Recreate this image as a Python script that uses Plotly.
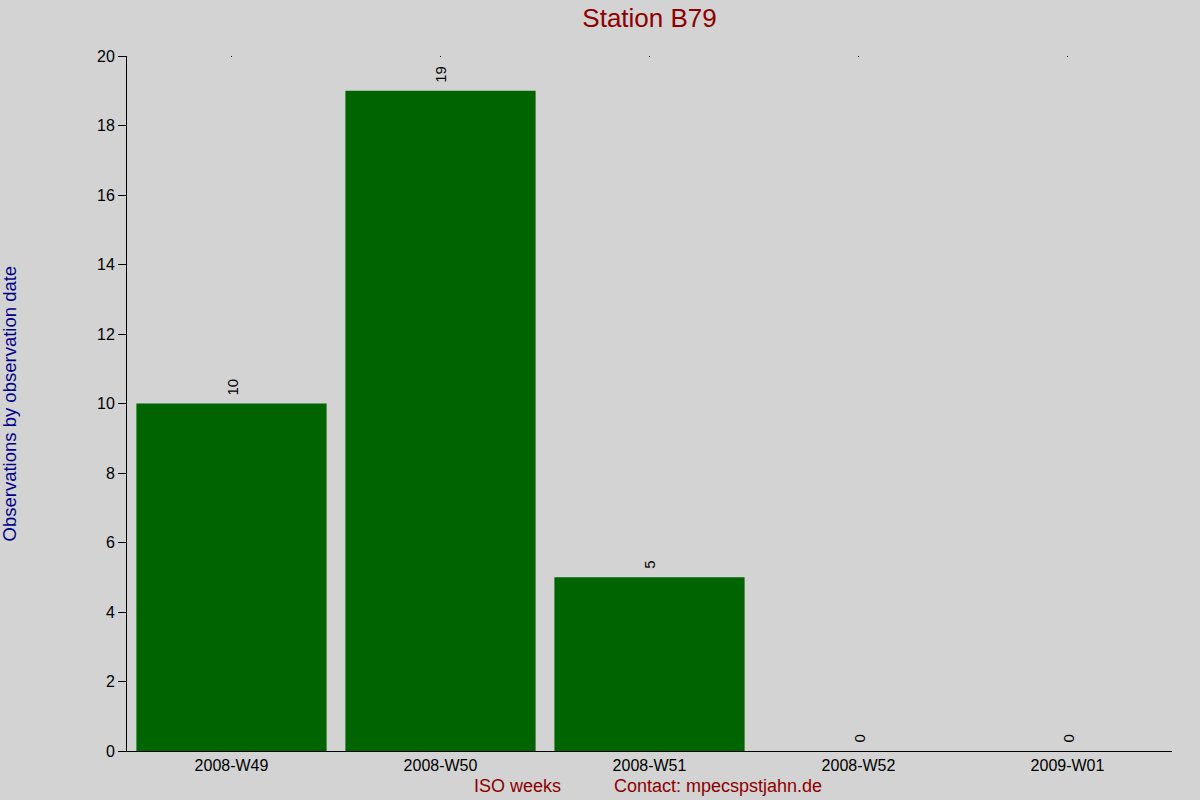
import plotly.graph_objects as go

# ISO weeks and observation counts
weeks = ['2008-W49', '2008-W50', '2008-W51', '2008-W52', '2009-W01']
counts = [10, 19, 5, 0, 0]

bg = '#d3d3d3'
bar_color = '#006400'
dark_red = '#8b0000'

fig = go.Figure()
fig.add_trace(go.Bar(
    x=weeks,
    y=counts,
    marker_color=bar_color,
    marker_line_width=0,
    hoverinfo='skip'
))
# invisible trace so the top axis gets its tiny tick dots
fig.add_trace(go.Scatter(x=weeks, y=counts, xaxis='x2', mode='markers',
                         marker=dict(opacity=0), hoverinfo='skip', showlegend=False))

# value labels, rotated, just above each bar
labels = []
for w, c in zip(weeks, counts):
    labels.append(dict(
        x=w, y=c, xref='x', yref='y', text=str(c), textangle=-90,
        showarrow=False, xanchor='center', yanchor='bottom', yshift=6,
        font=dict(family='Arial', size=15, color='black')
    ))

fig.update_layout(
    width=1200, height=800,
    paper_bgcolor=bg, plot_bgcolor=bg,
    margin=dict(l=127, r=28, t=56, b=49),
    bargap=0.09,
    showlegend=False,
    font=dict(family='Arial', size=16, color='black'),
    title=dict(text='Station B79', x=0.5413, xanchor='center', y=0.978, yanchor='middle',
               font=dict(family='Arial', size=26, color=dark_red)),
    xaxis=dict(
        range=[-0.5, 4.5], showgrid=False, zeroline=False, automargin=False,
        showline=True, linecolor='black', linewidth=1,
        ticks='', tickfont=dict(size=16, color='black')
    ),
    xaxis2=dict(
        overlaying='x', side='top', matches='x', showgrid=False, zeroline=False,
        showline=False, ticks='inside', ticklen=1, tickwidth=1, tickcolor='black',
        showticklabels=False, automargin=False
    ),
    yaxis=dict(
        range=[0, 20], dtick=2, showgrid=False, zeroline=False, automargin=False,
        showline=True, linecolor='black', linewidth=1,
        ticks='outside', ticklen=8, tickcolor='black',
        tickfont=dict(size=16, color='black')
    ),
    annotations=labels + [
        dict(text='Observations by observation date', xref='paper', yref='paper',
             x=-0.112, y=0.5, textangle=-90, xanchor='center', yanchor='middle',
             showarrow=False, font=dict(family='Arial', size=18.5, color='#00008b')),
        dict(text='ISO weeks', xref='paper', yref='paper', x=0.3736, y=-0.0504,
             xanchor='center', yanchor='middle', showarrow=False,
             font=dict(family='Arial', size=18, color=dark_red)),
        dict(text='Contact: mpecspstjahn.de', xref='paper', yref='paper', x=0.5652, y=-0.0504,
             xanchor='center', yanchor='middle', showarrow=False,
             font=dict(family='Arial', size=18, color=dark_red)),
    ]
)

fig.write_html('out.html', config={'displayModeBar': False},
               post_script="document.body.style.margin='0';")
